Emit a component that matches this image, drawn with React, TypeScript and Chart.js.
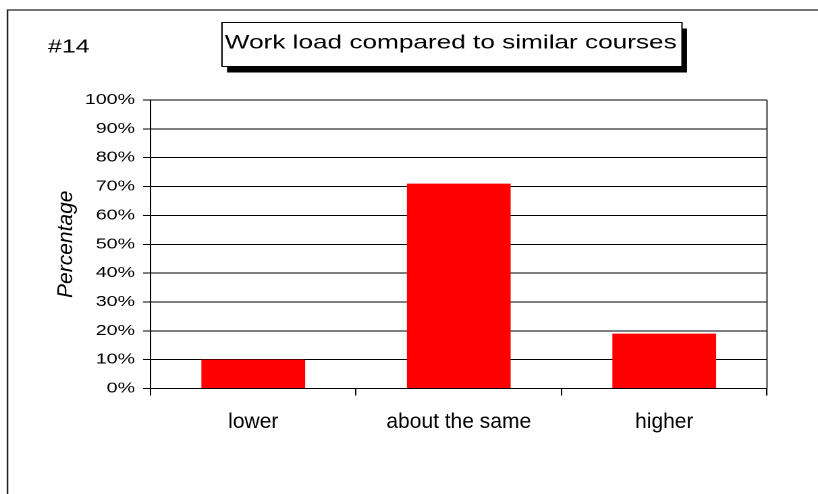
import React, { useEffect, useRef } from 'react';
import { Chart, registerables } from 'chart.js';

Chart.register(...registerables);

// ---- data ----
const categories: string[] = ['lower', 'about the same', 'higher'];
const percentages: number[] = [10, 71, 19];
const yMin = 0;
const yMax = 100;
const yStep = 10;
const chartNumber = '#14';
const chartTitle = 'Work load compared to similar courses';
const yAxisTitle = 'Percentage';

// ---- geometry ----
// The reference picture is stretched horizontally; the canvas is drawn narrower and widened by CSS.
const W = 818;
const H = 494;
const IW = 606;
const SC = W / IW;
const sx = (x: number) => x / SC;

const FONT_FAMILY = '"Liberation Sans", Arial, Helvetica, sans-serif';

// draws text that is not stretched in the final picture
function drawNaturalText(
  ctx: CanvasRenderingContext2D,
  text: string,
  x: number,
  y: number,
  font: string,
  align: CanvasTextAlign,
  baseline: CanvasTextBaseline,
  rotate = false
) {
  ctx.save();
  ctx.translate(x, y);
  ctx.scale(1 / SC, 1);
  if (rotate) ctx.rotate(-Math.PI / 2);
  ctx.font = font;
  ctx.textAlign = align;
  ctx.textBaseline = baseline;
  ctx.fillStyle = '#000';
  ctx.fillText(text, 0, 0);
  ctx.restore();
}

const decorPlugin = {
  id: 'decor',
  beforeDraw(chart: any) {
    const ctx = chart.ctx as CanvasRenderingContext2D;
    ctx.save();
    ctx.fillStyle = '#ffffff';
    ctx.fillRect(0, 0, chart.width, chart.height);
    // outer frame (top and left edges only visible)
    ctx.strokeStyle = '#222';
    ctx.lineWidth = 1.2;
    ctx.beginPath();
    ctx.moveTo(sx(7.5), chart.height);
    ctx.lineTo(sx(7.5), 10);
    ctx.lineTo(chart.width, 10);
    ctx.stroke();
    ctx.restore();
  },
  afterDraw(chart: any) {
    const ctx = chart.ctx as CanvasRenderingContext2D;
    const { right, top, bottom } = chart.chartArea;
    ctx.save();
    // right edge of plot area
    ctx.strokeStyle = '#333';
    ctx.lineWidth = 1;
    ctx.beginPath();
    ctx.moveTo(right, top);
    ctx.lineTo(right, bottom);
    ctx.stroke();

    // category labels, placed by the x scale
    const xScale = chart.scales.x;
    const labels: string[] = chart.data.labels;
    labels.forEach((lab, i) => {
      drawNaturalText(ctx, lab, xScale.getPixelForTick(i), xScale.top + 39.5, `21px ${FONT_FAMILY}`, 'center', 'alphabetic');
    });

    // y axis title
    const yScale = chart.scales.y;
    drawNaturalText(
      ctx,
      yAxisTitle,
      sx(66.5),
      (yScale.top + yScale.bottom) / 2,
      `italic 21px ${FONT_FAMILY}`,
      'center',
      'middle',
      true
    );

    // title box with shadow
    const x1 = sx(222);
    const x2 = sx(682);
    const y1 = 22.5;
    const y2 = 66.5;
    ctx.fillStyle = '#000';
    ctx.fillRect(x1 + sx(5), y1 + 6, x2 - x1, y2 - y1);
    ctx.fillStyle = '#fff';
    ctx.fillRect(x1, y1, x2 - x1, y2 - y1);
    ctx.strokeStyle = '#000';
    ctx.lineWidth = 1;
    ctx.strokeRect(x1, y1, x2 - x1, y2 - y1);

    ctx.fillStyle = '#000';
    ctx.font = `19.4px ${FONT_FAMILY}`;
    ctx.textAlign = 'center';
    ctx.textBaseline = 'alphabetic';
    ctx.fillText(chartTitle, sx(450.7), 48.5);

    ctx.font = `18.5px ${FONT_FAMILY}`;
    ctx.textAlign = 'left';
    ctx.fillText(chartNumber, sx(48), 52.5);
    ctx.restore();
  },
};

export default function App() {
  const ref = useRef<HTMLCanvasElement>(null);

  useEffect(() => {
    if (!ref.current) return;
    const chart = new Chart(ref.current, {
      type: 'bar',
      data: {
        labels: categories,
        datasets: [
          {
            data: percentages,
            backgroundColor: '#ff0000',
            borderWidth: 0,
            categoryPercentage: 1,
            barPercentage: 0.505,
          },
        ],
      },
      options: {
        responsive: false,
        devicePixelRatio: 2,
        animation: false,
        events: [],
        layout: {
          padding: { top: 100, right: IW - sx(767), bottom: 45.5, left: 0 },
        },
        plugins: {
          legend: { display: false },
          tooltip: { enabled: false },
          title: { display: false },
        },
        scales: {
          x: {
            type: 'category',
            offset: true,
            grid: {
              display: true,
              offset: true,
              drawOnChartArea: false,
              drawTicks: true,
              tickLength: 7,
              color: '#000',
              lineWidth: 1,
            },
            border: { display: true, color: '#000', width: 1 },
            ticks: {
              display: false,
              autoSkip: false,
            },
            afterFit: (s: any) => {
              s.height = 60;
            },
          },
          y: {
            min: yMin,
            max: yMax,
            grid: {
              color: '#000',
              lineWidth: 1,
              drawTicks: true,
              tickLength: sx(150.5) - sx(143),
            },
            border: { display: true, color: '#000', width: 1 },
            ticks: {
              stepSize: yStep,
              color: '#000',
              font: { family: FONT_FAMILY, size: 14.5 },
              padding: sx(143) - sx(135),
              callback: (v: any) => `${v}%`,
            },
            title: { display: false },
            afterFit: (s: any) => {
              s.width = sx(150.5);
            },
          },
        },
      },
      plugins: [decorPlugin],
    } as any);
    return () => chart.destroy();
  }, []);

  return (
    <div style={{ position: 'absolute', left: 0, top: 0, width: W, height: H, background: '#fff' }}>
      <canvas
        ref={ref}
        width={IW}
        height={H}
        style={{ width: `${W}px`, height: `${H}px`, display: 'block' }}
      />
    </div>
  );
}
